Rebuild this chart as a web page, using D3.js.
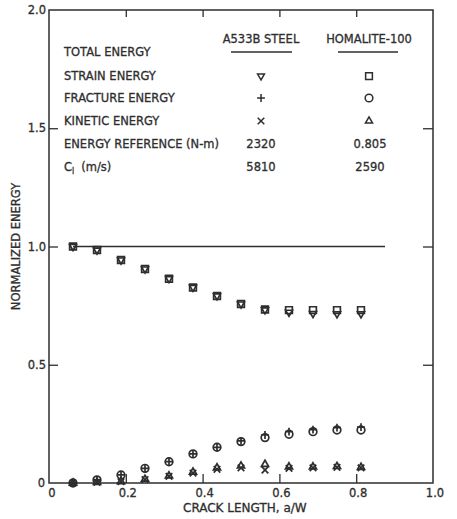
<!DOCTYPE html>
<html>
<head>
<meta charset="utf-8">
<script src="https://cdn.jsdelivr.net/npm/d3@7"></script>
<style>
    body { margin: 0; background: #fff; }
    svg { display: block; font-family: 'DejaVu Sans', sans-serif; }
    svg text { stroke: #2e2e2e; stroke-width: 0.3px; }
</style>
</head>
<body>
<svg width="457" height="519"></svg>
<script>
// crack length a/W
const crackLength = [0.0625, 0.125, 0.1875, 0.25, 0.3125, 0.375, 0.4375, 0.5, 0.5625, 0.625, 0.6875, 0.75, 0.8125]

// A533B steel
const steelStrain = [1.0, 0.985, 0.943, 0.905, 0.864, 0.827, 0.791, 0.757, 0.732, 0.722, 0.716, 0.715, 0.715]
const steelFracture = [0, 0.013, 0.034, 0.062, 0.09, 0.123, 0.151, 0.178, 0.203, 0.217, 0.226, 0.234, 0.236]
const steelKinetic = [0, 0.003, 0.006, 0.014, 0.028, 0.042, 0.058, 0.064, 0.055, 0.062, 0.064, 0.066, 0.064]

// Homalite-100
const homaliteStrain = [1.0, 0.985, 0.943, 0.905, 0.864, 0.827, 0.791, 0.757, 0.734, 0.731, 0.731, 0.731, 0.731]
const homaliteFracture = [0, 0.013, 0.034, 0.062, 0.09, 0.123, 0.151, 0.175, 0.192, 0.206, 0.217, 0.224, 0.224]
const homaliteKinetic = [0, 0.003, 0.006, 0.016, 0.03, 0.046, 0.064, 0.072, 0.079, 0.068, 0.068, 0.07, 0.066]

// total energy is the reference level
const totalEnergy = 1.0
const totalRange = [0.0625, 0.875]

const xTicks = [0, 0.2, 0.4, 0.6, 0.8, 1.0]
const yTicks = [0, 0.5, 1.0, 1.5, 2.0]
const xTickLabels = ['0', '0.2', '0.4', '0.6', '0.8', '1.0']
const yTickLabels = ['0', '0.5', '1.0', '1.5', '2.0']

const tableRows = ['TOTAL ENERGY', 'STRAIN ENERGY', 'FRACTURE ENERGY', 'KINETIC ENERGY', 'ENERGY REFERENCE (N-m)', 'C|(m/s)']
const tableColumns = ['A533B STEEL', 'HOMALITE-100']
const energyReference = ['2320', '0.805']
const waveSpeed = ['5810', '2590']

const ink = '#2e2e2e'
const marginLeft = 49
const marginRight = 24
const marginTop = 10
const marginBottom = 36

const svg = d3.select('svg')
const width = +svg.attr('width')
const height = +svg.attr('height')
const innerWidth = width - marginLeft - marginRight
const innerHeight = height - marginTop - marginBottom

// scales map straight to page pixels so every label sits in svg coordinates
const xScale = d3.scaleLinear().domain([0, 1]).range([marginLeft, marginLeft + innerWidth])
const yScale = d3.scaleLinear().domain([0, 2]).range([marginTop + innerHeight, marginTop])

const symbols = {
    strainSteel: d3.symbol().type(d3.symbolTriangle2).size(34),
    strainHomalite: d3.symbol().type(d3.symbolSquare2).size(58),
    fractureSteel: d3.symbol().type(d3.symbolPlus).size(22),
    fractureHomalite: d3.symbol().type(d3.symbolCircle).size(46),
    kineticSteel: d3.symbol().type(d3.symbolTimes).size(30),
    kineticHomalite: d3.symbol().type(d3.symbolTriangle2).size(36),
}

function drawAxes() {
    // only the tick marks come from d3's axes, labels are placed below
    const axisStyle = (g) => {
        g.select('.domain').remove()
        g.selectAll('.tick text').remove()
        g.selectAll('.tick line').attr('stroke', ink).attr('stroke-width', 1.3)
    }

    svg.append('rect')
        .attr('x', marginLeft)
        .attr('y', marginTop)
        .attr('width', innerWidth)
        .attr('height', innerHeight)
        .attr('fill', 'none')
        .attr('stroke', ink)
        .attr('stroke-width', 1.5)

    svg.append('g')
        .attr('transform', `translate(0, ${marginTop + innerHeight})`)
        .call(d3.axisBottom(xScale).tickValues(xTicks.slice(1, 5)).tickSize(-9))
        .call(axisStyle)

    svg.append('g')
        .attr('transform', `translate(0, ${marginTop})`)
        .call(d3.axisTop(xScale).tickValues(xTicks.slice(1, 5)).tickSize(-7))
        .call(axisStyle)

    svg.append('g')
        .attr('transform', `translate(${marginLeft}, 0)`)
        .call(d3.axisLeft(yScale).tickValues(yTicks.slice(1, 4)).tickSize(-9))
        .call(axisStyle)

    svg.append('g')
        .attr('transform', `translate(${marginLeft + innerWidth}, 0)`)
        .call(d3.axisRight(yScale).tickValues(yTicks.slice(1, 4)).tickSize(-10))
        .call(axisStyle)

    // tick labels
    svg.append('g')
        .selectAll('text')
        .data(xTicks)
        .join('text')
        .attr('x', (d) => xScale(d) + (d === 0 ? 3 : 2))
        .attr('y', yScale(0) + 14)
        .attr('text-anchor', 'middle')
        .attr('fill', ink)
        .style('font-size', '11.5px')
        .text((d, i) => xTickLabels[i])

    svg.append('g')
        .selectAll('text')
        .data(yTicks)
        .join('text')
        .attr('x', (d) => marginLeft - (d === 0 ? 4 : 3))
        .attr('y', (d) => yScale(d) + 4)
        .attr('text-anchor', 'end')
        .attr('fill', ink)
        .style('font-size', '11.5px')
        .text((d, i) => yTickLabels[i])

    svg.append('text')
        .attr('x', xScale(0.51))
        .attr('y', height - 7)
        .attr('text-anchor', 'middle')
        .attr('fill', ink)
        .style('font-size', '12px')
        .text('CRACK LENGTH, a/W')

    svg.append('text')
        .attr('x', 20)
        .attr('y', yScale(1.0))
        .attr('transform', `rotate(-90, 20, ${yScale(1.0)})`)
        .attr('text-anchor', 'middle')
        .attr('fill', ink)
        .style('font-size', '11.5px')
        .text('NORMALIZED ENERGY')
}

function drawTable() {
    const table = svg.append('g')
    const rowY = [52, 76, 98, 121, 144, 167]
    const colX = [261, 369]

    table.selectAll('text.row-label')
        .data(tableRows)
        .join('text')
        .attr('class', 'row-label')
        .attr('x', 64)
        .attr('y', (d, i) => rowY[i] + 4)
        .attr('fill', ink)
        .style('font-size', '11.5px')
        .text((d, i) => (i === 5 ? '' : d))
        .each(function (d, i) {
            if (i !== 5) return
            const parts = d.split('|')
            const t = d3.select(this)
            t.append('tspan').text(parts[0])
            t.append('tspan').attr('dy', 3).style('font-size', '8px').text('l')
            t.append('tspan').attr('dy', -3).attr('dx', 7).text(parts[1])
        })

    table.selectAll('text.col-label')
        .data(tableColumns)
        .join('text')
        .attr('class', 'col-label')
        .attr('x', (d, i) => colX[i])
        .attr('y', 43)
        .attr('text-anchor', 'middle')
        .attr('fill', ink)
        .style('font-size', '11.5px')
        .text((d) => d)

    table.selectAll('line.underline')
        .data([[231, 292], [338, 398]])
        .join('line')
        .attr('class', 'underline')
        .attr('x1', (d) => d[0])
        .attr('x2', (d) => d[1])
        .attr('y1', 52)
        .attr('y2', 52)
        .attr('stroke', ink)
        .attr('stroke-width', 1.3)

    const legendSymbols = [
        [symbols.strainSteel, symbols.strainHomalite, true],
        [symbols.fractureSteel, symbols.fractureHomalite, false],
        [symbols.kineticSteel, symbols.kineticHomalite, false],
    ]
    legendSymbols.forEach((row, i) => {
        table.append('path')
            .attr('d', row[0]())
            .attr('transform', `translate(${colX[0]}, ${rowY[i + 1]}) rotate(${row[2] ? 180 : 0})`)
            .attr('fill', 'none')
            .attr('stroke', ink)
            .attr('stroke-width', 1.5)
        table.append('path')
            .attr('d', row[1]())
            .attr('transform', `translate(${colX[1]}, ${rowY[i + 1]})`)
            .attr('fill', 'none')
            .attr('stroke', ink)
            .attr('stroke-width', 1.5)
    })

    table.selectAll('text.value')
        .data([...energyReference.map((d, i) => [d, i, 4]), ...waveSpeed.map((d, i) => [d, i, 5])])
        .join('text')
        .attr('class', 'value')
        .attr('x', (d) => colX[d[1]] + (d[1] === 1 ? 1 : 0))
        .attr('y', (d) => rowY[d[2]] + 4)
        .attr('text-anchor', 'middle')
        .attr('fill', ink)
        .style('font-size', '11.5px')
        .text((d) => d[0])
}

function draw() {
    svg.append('line')
        .attr('x1', xScale(totalRange[0]))
        .attr('x2', xScale(totalRange[1]))
        .attr('y1', yScale(totalEnergy))
        .attr('y2', yScale(totalEnergy))
        .attr('stroke', ink)
        .attr('stroke-width', 1.3)

    const series = [
        { values: homaliteStrain, symbol: symbols.strainHomalite, rotate: 0 },
        { values: steelStrain, symbol: symbols.strainSteel, rotate: 180 },
        { values: homaliteFracture, symbol: symbols.fractureHomalite, rotate: 0 },
        { values: steelFracture, symbol: symbols.fractureSteel, rotate: 0 },
        { values: homaliteKinetic, symbol: symbols.kineticHomalite, rotate: 0 },
        { values: steelKinetic, symbol: symbols.kineticSteel, rotate: 0 },
    ]

    series.forEach((s) => {
        svg.append('g')
            .selectAll('path')
            .data(s.values.map((v, i) => ({ x: crackLength[i], y: v })))
            .join('path')
            .attr('d', s.symbol())
            .attr('transform', (d) => `translate(${xScale(d.x)}, ${yScale(d.y)}) rotate(${s.rotate})`)
            .attr('fill', 'none')
            .attr('stroke', ink)
            .attr('stroke-width', 1.7)
    })
}

drawAxes()
drawTable()
draw()
</script>
</body>
</html>
